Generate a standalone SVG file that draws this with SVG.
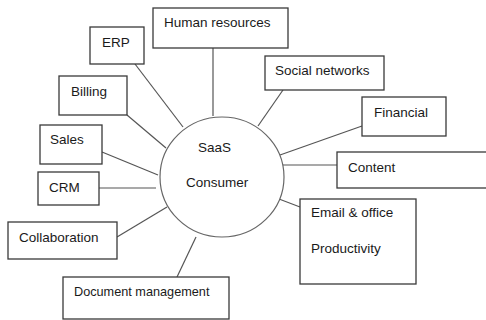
<svg xmlns="http://www.w3.org/2000/svg" width="486" height="320" viewBox="0 0 486 320">
  <style>
    .box { fill: #ffffff; stroke: #3a3a3a; stroke-width: 1.3; }
    .hub { fill: #ffffff; stroke: #666666; stroke-width: 1.2; }
    .link { stroke: #555555; stroke-width: 1.2; fill: none; }
    text { font-family: "Liberation Sans", Arial, sans-serif; font-size: 13.5px; fill: #1a1a1a; }
    .small { font-size: 12.7px; }
  </style>
  <rect width="486" height="320" fill="#ffffff"/>

  <!-- spokes from the hub to each category box -->
  <g id="connectors">
    <line class="link" x1="213" y1="48" x2="213" y2="116"/>
    <line class="link" x1="135" y1="64" x2="183" y2="127"/>
    <line class="link" x1="127" y1="115" x2="166" y2="148"/>
    <line class="link" x1="102" y1="152" x2="158" y2="175"/>
    <line class="link" x1="99" y1="188" x2="156" y2="188"/>
    <line class="link" x1="117" y1="237" x2="167" y2="207"/>
    <line class="link" x1="177" y1="277" x2="196" y2="237"/>
    <line class="link" x1="283" y1="90" x2="258" y2="126"/>
    <line class="link" x1="362" y1="126" x2="280" y2="155"/>
    <line class="link" x1="278" y1="165" x2="337" y2="165"/>
    <line class="link" x1="279" y1="199" x2="300" y2="207"/>
  </g>

  <g id="hub">
    <ellipse class="hub" cx="222" cy="177" rx="62" ry="60"/>
    <text x="198" y="152">SaaS</text>
    <text x="186" y="187">Consumer</text>
  </g>

  <g id="human-resources">
    <rect class="box" x="153" y="8" width="135" height="40"/>
    <text x="164" y="27">Human resources</text>
  </g>

  <g id="erp">
    <rect class="box" x="90" y="27" width="54" height="37"/>
    <text x="102" y="47">ERP</text>
  </g>

  <g id="billing">
    <rect class="box" x="59" y="76" width="68" height="39"/>
    <text x="71" y="96">Billing</text>
  </g>

  <g id="sales">
    <rect class="box" x="40" y="125" width="62" height="39"/>
    <text x="50" y="144">Sales</text>
  </g>

  <g id="crm">
    <rect class="box" x="38" y="172" width="61" height="33"/>
    <text x="49" y="192">CRM</text>
  </g>

  <g id="collaboration">
    <rect class="box" x="8" y="222" width="109" height="37"/>
    <text x="19" y="242">Collaboration</text>
  </g>

  <g id="document-management">
    <rect class="box" x="63" y="277" width="166" height="42"/>
    <text class="small" x="74" y="296">Document management</text>
  </g>

  <g id="social-networks">
    <rect class="box" x="265" y="56" width="119" height="34"/>
    <text x="275" y="75">Social networks</text>
  </g>

  <g id="financial">
    <rect class="box" x="362" y="97" width="84" height="39"/>
    <text x="374" y="117">Financial</text>
  </g>

  <g id="content">
    <rect class="box" x="337" y="152" width="160" height="36"/>
    <text x="348" y="172">Content</text>
  </g>

  <g id="email-office">
    <rect class="box" x="300" y="199" width="116" height="85"/>
    <text x="311" y="217">Email &amp; office</text>
    <text x="311" y="253">Productivity</text>
  </g>
</svg>
